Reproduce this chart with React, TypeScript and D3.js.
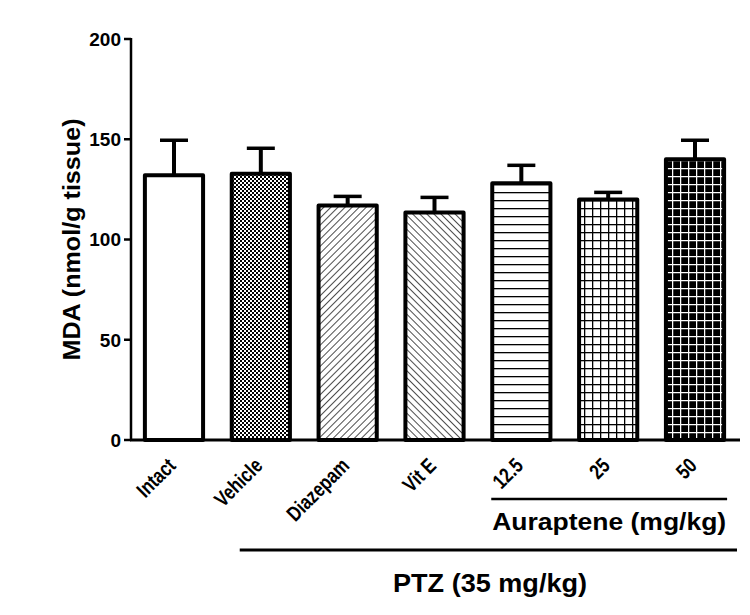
import React from "react";
import * as d3 from "d3";

const categories = ["Intact", "Vehicle", "Diazepam", "Vit E", "12.5", "25", "50"];
const means = [132, 132.8, 117, 113.5, 128, 120, 140];
const errorTops = [149.5, 145.5, 121.5, 121, 137, 123.5, 149.5];
const yTicks = [0, 50, 100, 150, 200];
const patternIds = ["none", "checker", "diagUp", "diagDown", "hlines", "grid", "blackGrid"];

const W = 750;
const H = 615;
const FONT = "Liberation Sans, Arial, Helvetica, sans-serif";

export default function App() {
  const x = d3.scaleBand<string>().domain(categories).range([131, 738]).paddingInner(0.33).paddingOuter(0.16);
  const y = d3.scaleLinear().domain([0, 200]).range([440, 39]);
  const bw = x.bandwidth();

  const fillFor = (id: string) => (id === "none" ? "#fff" : `url(#${id})`);

  const aurStart = (x("12.5") as number) - 1;
  const aurEnd = (x("50") as number) + bw + 3;
  const ptzStart = (x("Vehicle") as number) + 8;
  const ptzEnd = 737;

  return (
    <svg width={W} height={H} style={{ position: "absolute", left: 0, top: 0, background: "#fff" }} fontFamily={FONT}>
      <defs>
        <pattern id="checker" width="4" height="4" patternUnits="userSpaceOnUse">
          <rect width="4" height="4" fill="#fff" />
          <rect x="0" y="0" width="2" height="2" fill="#000" />
          <rect x="2" y="2" width="2" height="2" fill="#000" />
        </pattern>
        <pattern id="diagUp" width="5" height="5" patternUnits="userSpaceOnUse" patternTransform="rotate(45)">
          <rect width="5" height="5" fill="#fff" />
          <line x1="0" y1="0" x2="0" y2="5" stroke="#000" strokeWidth="1.4" />
        </pattern>
        <pattern id="diagDown" width="5" height="5" patternUnits="userSpaceOnUse" patternTransform="rotate(-45)">
          <rect width="5" height="5" fill="#fff" />
          <line x1="0" y1="0" x2="0" y2="5" stroke="#000" strokeWidth="1.4" />
        </pattern>
        <pattern id="hlines" width="8" height="8" patternUnits="userSpaceOnUse">
          <rect width="8" height="8" fill="#fff" />
          <line x1="0" y1="0.5" x2="8" y2="0.5" stroke="#000" strokeWidth="1.6" />
        </pattern>
        <pattern id="grid" width="8" height="8" patternUnits="userSpaceOnUse">
          <rect width="8" height="8" fill="#fff" />
          <line x1="0" y1="0.5" x2="8" y2="0.5" stroke="#000" strokeWidth="1.6" />
          <line x1="0.5" y1="0" x2="0.5" y2="8" stroke="#000" strokeWidth="1.6" />
        </pattern>
        <pattern id="blackGrid" width="8" height="8" patternUnits="userSpaceOnUse">
          <rect width="8" height="8" fill="#000" />
          <line x1="0" y1="0.5" x2="8" y2="0.5" stroke="#fff" strokeWidth="1.5" />
          <line x1="0.5" y1="0" x2="0.5" y2="8" stroke="#fff" strokeWidth="1.5" />
        </pattern>
      </defs>

      {/* Error bars */}
      {categories.map((c, i) => {
        const cx = (x(c) as number) + bw / 2;
        return (
          <g key={"e" + c}>
            <line x1={cx} x2={cx} y1={y(means[i])} y2={y(errorTops[i])} stroke="#000" strokeWidth={4} />
            <line x1={cx - 14} x2={cx + 14} y1={y(errorTops[i])} y2={y(errorTops[i])} stroke="#000" strokeWidth={3.5} />
          </g>
        );
      })}

      {/* Bars */}
      {categories.map((c, i) => (
        <rect
          key={"b" + c}
          x={x(c)}
          y={y(means[i])}
          width={bw}
          height={y(0) - y(means[i])}
          fill={fillFor(patternIds[i])}
          stroke="#000"
          strokeWidth={4}
          strokeLinejoin="round"
        />
      ))}

      {/* Y axis */}
      <line x1={131} x2={131} y1={y(200) - 1} y2={y(0)} stroke="#000" strokeWidth={2.5} />
      {yTicks.map((t) => (
        <g key={"t" + t}>
          <line x1={124} x2={131} y1={y(t)} y2={y(t)} stroke="#000" strokeWidth={2.5} />
          <text x={121} y={y(t)} dy="0.36em" textAnchor="end" fontSize={19} fontWeight="bold">
            {t}
          </text>
        </g>
      ))}
      {/* X axis */}
      <line x1={130} x2={740} y1={y(0)} y2={y(0)} stroke="#000" strokeWidth={3} />

      {/* Y label */}
      <text
        transform={`translate(80,${(y(0) + y(200)) / 2}) rotate(-90)`}
        textAnchor="middle"
        fontSize={24}
        fontWeight="bold"
        textLength={242}
        lengthAdjust="spacingAndGlyphs"
      >
        MDA (nmol/g tissue)
      </text>

      {/* X tick labels */}
      {categories.map((c) => {
        const cx = (x(c) as number) + bw / 2;
        return (
          <text
            key={"l" + c}
            transform={`translate(${cx + 3},${467}) rotate(-45) scale(0.8,1)`}
            textAnchor="end"
            fontSize={21}
            fontWeight="bold"
          >
            {c}
          </text>
        );
      })}

      {/* Group brackets */}
      <line x1={aurStart} x2={aurEnd} y1={499} y2={499} stroke="#000" strokeWidth={2.5} />
      <text
        x={(aurStart + aurEnd) / 2}
        y={530}
        textAnchor="middle"
        fontSize={23}
        fontWeight="bold"
        textLength={234}
        lengthAdjust="spacingAndGlyphs"
      >
        Auraptene (mg/kg)
      </text>
      <line x1={ptzStart} x2={ptzEnd} y1={550} y2={550} stroke="#000" strokeWidth={3} />
      <text
        x={490}
        y={592}
        textAnchor="middle"
        fontSize={25}
        fontWeight="bold"
        textLength={194}
        lengthAdjust="spacingAndGlyphs"
      >
        PTZ (35 mg/kg)
      </text>
    </svg>
  );
}
